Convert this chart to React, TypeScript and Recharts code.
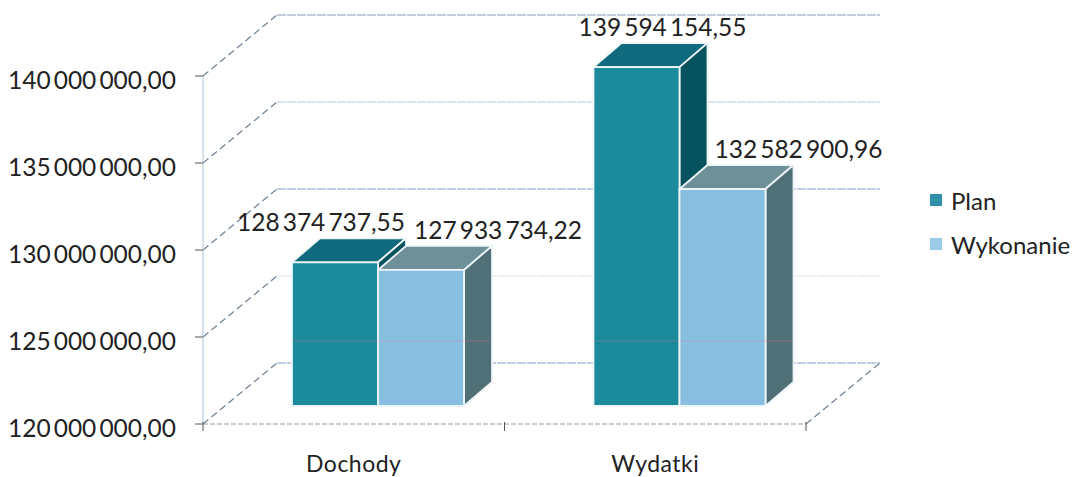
import React from "react";
import {
  BarChart,
  Bar,
  XAxis,
  YAxis,
  CartesianGrid,
  Legend,
  LabelList,
} from "recharts";

const categories = ["Dochody", "Wydatki"];
const planValues = [128374737.55, 139594154.55];
const wykonanieValues = [127933734.22, 132582900.96];
const yTicks = [120000000, 125000000, 130000000, 135000000, 140000000];

const data = categories.map((name, i) => ({
  name,
  Plan: planValues[i],
  Wykonanie: wykonanieValues[i],
}));

const FONT = "Lato, sans-serif";
const TEXT = "#222222";

// Fake 3D: the back wall sits up and to the right of the axis plane
const WALL_DX = 74;
const WALL_DY = -61;
// bars stand in the middle of the floor
const BAR_DX = 24;
const BAR_TOP_DY = -16;
const BAR_BOTTOM_DY = -18;
const DEPTH_DX = 28;
const DEPTH_DY = -24;
const BAND = 301.5;

const planColors = { front: "#1b8a9b", top: "#0e6a7c", side: "#07525f" };
const wykonanieColors = { front: "#88bfe0", top: "#6e9199", side: "#4f7077" };

const formatMoney = (v: number) => {
  const [whole, dec] = v.toFixed(2).split(".");
  return `${whole.replace(/\B(?=(\d{3})+$)/g, "\u2009")},${dec}`;
};

const makeBox =
  (colors: { front: string; top: string; side: string }) => (props: any) => {
    const { x, y, width, height } = props;
    const left = x + BAR_DX;
    const right = left + width;
    const top = y + BAR_TOP_DY;
    const bottom = y + height + BAR_BOTTOM_DY;
    return (
      <g>
        <g stroke="#eef5f8" strokeWidth={1.8} strokeLinejoin="round">
          <polygon
            fill={colors.top}
            points={`${left},${top} ${right},${top} ${right + DEPTH_DX},${top + DEPTH_DY} ${left + DEPTH_DX},${top + DEPTH_DY}`}
          />
          <polygon
            fill={colors.side}
            points={`${right},${top} ${right + DEPTH_DX},${top + DEPTH_DY} ${right + DEPTH_DX},${bottom + DEPTH_DY} ${right},${bottom}`}
          />
          <rect x={left} y={top} width={width} height={bottom - top} fill={colors.front} />
        </g>
        {/* thin pink streak that runs across the bars in the scan */}
        <line
          x1={left}
          y1={bottom - 65}
          x2={right + DEPTH_DX}
          y2={bottom - 65}
          stroke="#e8788e"
          strokeOpacity={0.3}
        />
      </g>
    );
  };

const makeValueLabel = (nudge: number[]) => (props: any) => {
  const { x, y, width, value, index } = props;
  return (
    <text
      x={x + BAR_DX + width / 2 + nudge[index]}
      y={y + BAR_TOP_DY - 31}
      textAnchor="middle"
      fontFamily={FONT}
      fontSize={24.5}
      fill={TEXT}
    >
      {formatMoney(value)}
    </text>
  );
};

const GridLine = (props: any) => {
  const { x1, x2, y1, index } = props;
  const wallColors = ["#7f9fc4", "#dbe4ee", "#7f9fc4", "#b5c8de", "#8a99b5"];
  return (
    <g key={`grid-${index}`}>
      <line
        x1={x1}
        y1={y1}
        x2={x1 + WALL_DX}
        y2={y1 + WALL_DY}
        stroke="#6f8296"
        strokeWidth={1.2}
        strokeDasharray="7 4"
      />
      <line
        x1={x1 + WALL_DX}
        y1={y1 + WALL_DY}
        x2={x2 + WALL_DX}
        y2={y1 + WALL_DY}
        stroke={wallColors[index] ?? "#b5c8de"}
        strokeWidth={1.2}
        strokeDasharray="9 1"
      />
      {y1 > 400 && (
        <line
          x1={x2}
          y1={y1}
          x2={x2 + WALL_DX}
          y2={y1 + WALL_DY}
          stroke="#6f8296"
          strokeWidth={1.2}
          strokeDasharray="7 4"
        />
      )}
    </g>
  );
};

const CategoryTick = (props: any) => {
  const { x, y, payload, index } = props;
  return (
    <g>
      <line x1={x - BAND / 2} y1={y - 10} x2={x - BAND / 2} y2={y - 1} stroke="#555" />
      {index === categories.length - 1 && (
        <line x1={x + BAND / 2} y1={y - 10} x2={x + BAND / 2} y2={y - 1} stroke="#555" />
      )}
      <text
        x={x}
        y={y + 40}
        textAnchor="middle"
        fontFamily={FONT}
        fontSize={23}
        letterSpacing={0.5}
        fill={TEXT}
      >
        {payload.value}
      </text>
    </g>
  );
};

const LegendBox = () => (
  <div style={{ fontFamily: FONT, fontSize: 24, color: TEXT }}>
    {[
      { name: "Plan", color: "#2f90ab" },
      { name: "Wykonanie", color: "#9ccbea" },
    ].map((item) => (
      <div
        key={item.name}
        style={{ display: "flex", alignItems: "center", height: 44 }}
      >
        <span
          style={{
            width: 12,
            height: 12,
            marginRight: 9,
            background: item.color,
            display: "inline-block",
          }}
        />
        {item.name}
      </div>
    ))}
  </div>
);

const App = () => {
  return (
    <div style={{ position: "absolute", left: 0, top: 0, background: "#fff" }}>
      <BarChart
        width={1072}
        height={477}
        data={data}
        margin={{ top: 76, right: 266, bottom: 0, left: 0 }}
        barCategoryGap={65}
        barGap={0}
      >
        <CartesianGrid horizontal={GridLine as any} vertical={false} />
        <XAxis
          dataKey="name"
          height={53}
          axisLine={{ stroke: "#8aa59a", strokeDasharray: "5 2" }}
          tickLine={false}
          tick={CategoryTick as any}
          interval={0}
        />
        <YAxis
          width={203}
          domain={[120000000, 140000000]}
          ticks={yTicks}
          interval={0}
          axisLine={{ stroke: "#a9c4dc" }}
          tickLine={{ stroke: "#555" }}
          tickSize={8}
          tickMargin={19}
          tickFormatter={formatMoney}
          tick={{ fontFamily: FONT, fontSize: 24.5, fill: TEXT, dy: 4 }}
        />
        <Legend
          layout="vertical"
          align="center"
          verticalAlign="middle"
          content={LegendBox as any}
          wrapperStyle={{ left: 930, top: 178, width: 142 }}
        />
        <Bar
          dataKey="Plan"
          isAnimationActive={false}
          fill={planColors.front}
          shape={makeBox(planColors)}
        >
          <LabelList dataKey="Plan" content={makeValueLabel([-14, 26])} />
        </Bar>
        <Bar
          dataKey="Wykonanie"
          isAnimationActive={false}
          fill={wykonanieColors.front}
          shape={makeBox(wykonanieColors)}
        >
          <LabelList dataKey="Wykonanie" content={makeValueLabel([77, 76])} />
        </Bar>
      </BarChart>
    </div>
  );
};

export default App;
